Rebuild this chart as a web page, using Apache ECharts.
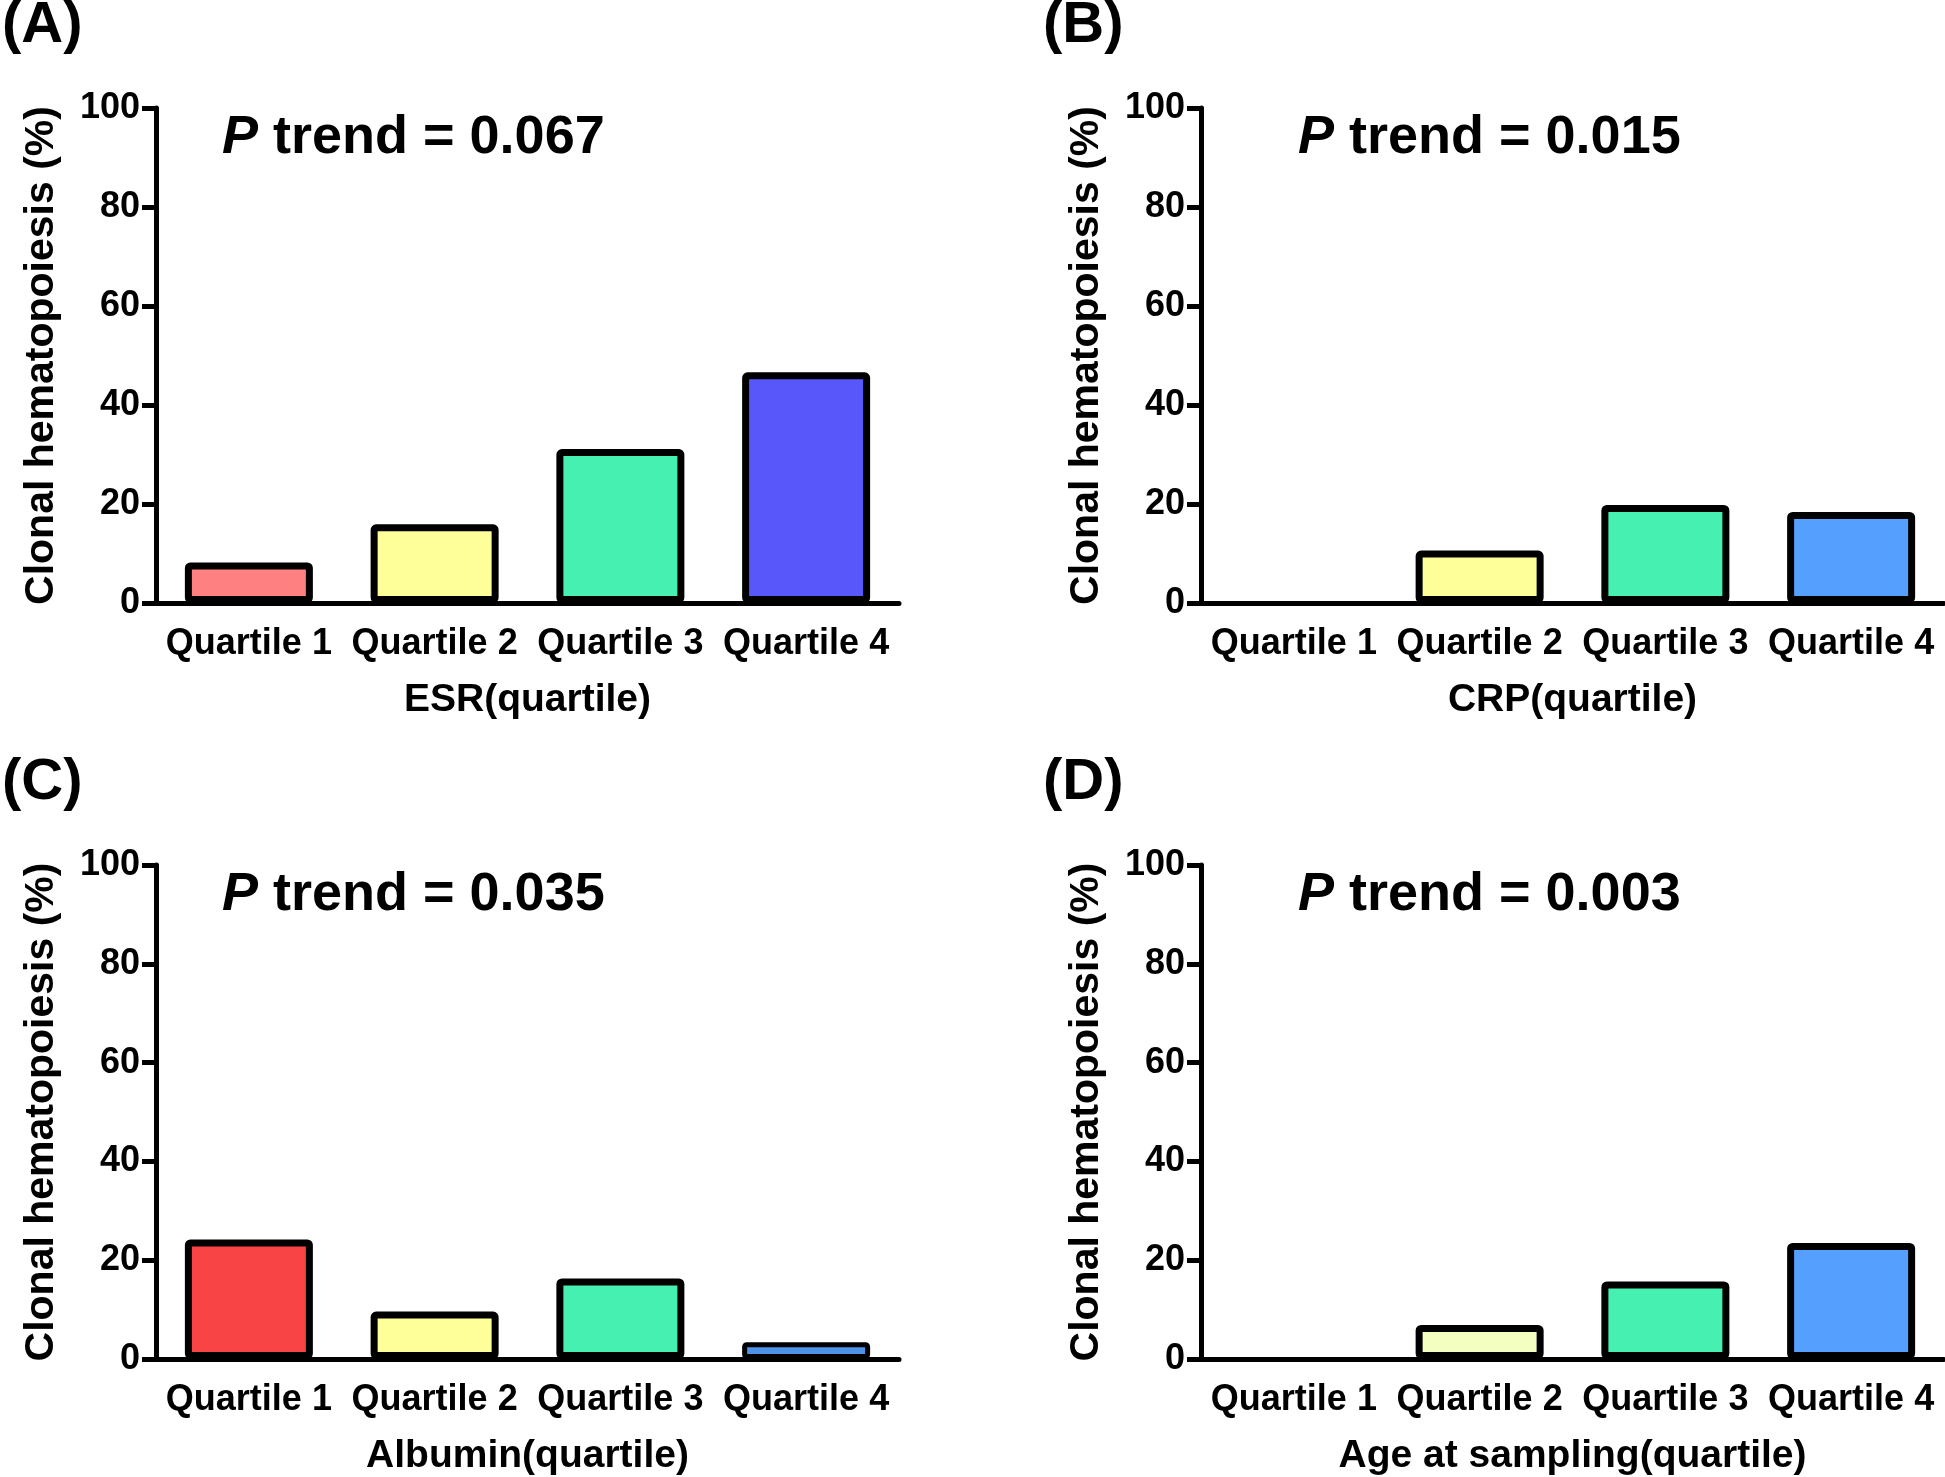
<!DOCTYPE html>
<html>
<head>
<meta charset="utf-8">
<title>Clonal hematopoiesis by quartile</title>
<script src="https://cdn.jsdelivr.net/npm/echarts@6/dist/echarts.min.js"></script>
<style>
  html, body { margin: 0; padding: 0; background: #fff; }
  #chart { width: 1945px; height: 1477px; }
</style>
</head>
<body>
<div id="chart"></div>
<script>
// categories shared by all four panels
const quartiles = ['Quartile 1', 'Quartile 2', 'Quartile 3', 'Quartile 4'];
const yTicks = [0, 20, 40, 60, 80, 100];

// values (%)
const esrValues = [8.2, 15.9, 31.1, 46.6];
const crpValues = [0, 10.6, 19.8, 18.4];
const albuminValues = [24.2, 9.6, 16.3, 3.4];
const ageValues = [0, 6.9, 15.7, 23.5];

// bar fills per panel
const esrColors = ['#FF8080', '#FFFF99', '#45F0B0', '#5858FA'];
const crpColors = ['#FFFF99', '#FFFF99', '#45F0B0', '#55A0FF'];
const albuminColors = ['#F84444', '#FFFF99', '#45F0B0', '#4D94E8'];
const ageColors = ['#F2FFC0', '#F2FFC0', '#45F0B0', '#55A0FF'];

const panelLetters = ['(A)', '(B)', '(C)', '(D)'];
const xNames = ['ESR(quartile)', 'CRP(quartile)', 'Albumin(quartile)', 'Age at sampling(quartile)'];
const pTrends = ['0.067', '0.015', '0.035', '0.003'];
const yName = 'Clonal hematopoiesis (%)';

const panels = [
  { values: esrValues, colors: esrColors },
  { values: crpValues, colors: crpColors },
  { values: albuminValues, colors: albuminColors },
  { values: ageValues, colors: ageColors }
];

// panel placement
const gridLeft = [156, 1201, 156, 1201];
const gridTop = [108, 108, 865, 865];
const gridW = 743;
const gridH = 495;
const letterPos = [[-3, -8], [1038, -8], [-3, 749], [1038, 749]];
const pPos = [[217, 106], [1293, 106], [217, 863], [1293, 863]];

const FONT = '"Liberation Sans", Arial, Helvetica, sans-serif';

let chart = echarts.init(document.getElementById('chart'));

let grids = [], xAxes = [], yAxes = [], series = [], titles = [];

panels.forEach((p, i) => {
  grids.push({ left: gridLeft[i], top: gridTop[i], width: gridW, height: gridH, containLabel: false });

  xAxes.push({
    type: 'category',
    gridIndex: i,
    data: quartiles,
    z: 5, // axis line drawn over the bar bottoms
    name: xNames[i],
    nameLocation: 'middle',
    nameGap: 78,
    nameTextStyle: { fontFamily: FONT, fontWeight: 'bold', fontSize: 39, color: '#000' },
    axisLine: { lineStyle: { color: '#000', width: 5 } },
    axisTick: { alignWithLabel: true, length: 12, lineStyle: { color: '#000', width: 5 } },
    axisLabel: { fontFamily: FONT, fontWeight: 'bold', fontSize: 36, color: '#000', margin: 23, interval: 0 },
    splitLine: { show: false }
  });

  yAxes.push({
    type: 'value',
    gridIndex: i,
    min: yTicks[0],
    max: yTicks[yTicks.length - 1],
    interval: 20,
    name: yName,
    nameLocation: 'middle',
    nameGap: 94,
    nameTextStyle: { fontFamily: FONT, fontWeight: 'bold', fontSize: 41, color: '#000' },
    axisLine: { show: true, lineStyle: { color: '#000', width: 5 } },
    axisTick: { show: true, length: 14, lineStyle: { color: '#000', width: 5 } },
    axisLabel: { fontFamily: FONT, fontWeight: 'bold', fontSize: 36, color: '#000', margin: 16 },
    splitLine: { show: false }
  });

  series.push({
    type: 'bar',
    xAxisIndex: i,
    yAxisIndex: i,
    barWidth: 128,
    data: p.values.map((v, k) => ({
      value: v,
      itemStyle: {
        color: p.colors[k],
        borderColor: '#000',
        borderWidth: v === 0 ? 0 : (v < 5 ? 5 : 7),
        borderRadius: 2
      }
    })),
    animation: false
  });

  titles.push({
    text: panelLetters[i],
    left: letterPos[i][0],
    top: letterPos[i][1],
    textStyle: { fontFamily: FONT, fontWeight: 'bold', fontSize: 58, color: '#000' }
  });

  titles.push({
    text: '{i|P} trend = ' + pTrends[i],
    left: pPos[i][0],
    top: pPos[i][1],
    textStyle: {
      fontFamily: FONT, fontWeight: 'bold', fontSize: 54, color: '#000',
      rich: {
        i: { fontFamily: FONT, fontWeight: 'bold', fontStyle: 'italic', fontSize: 54, color: '#000' }
      }
    }
  });
});

let option = {
  backgroundColor: '#fff',
  animation: false,
  title: titles,
  grid: grids,
  xAxis: xAxes,
  yAxis: yAxes,
  series: series
};

chart.setOption(option);
</script>
</body>
</html>
